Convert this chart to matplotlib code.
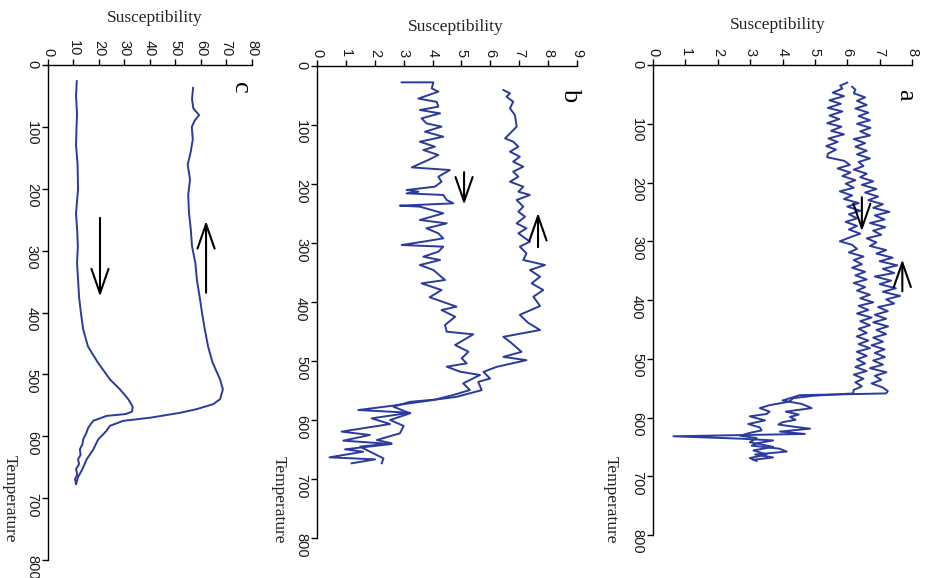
import matplotlib
matplotlib.use("Agg")
import numpy as np
import matplotlib.pyplot as plt

# (temperature, susceptibility), one list per curve
c_lower = [(26, 11.3), (50, 11.0), (80, 11.4), (100, 11.2), (130, 11.0), (160, 11.6), (200, 11.8),
           (240, 11.0), (270, 11.5), (293, 11.7), (320, 11.4), (347, 11.8), (375, 12.2), (400, 12.9),
           (427, 13.8), (455, 15.7), (481, 19.6), (508, 24.3), (524, 28.2), (540, 31.5), (552, 33.2),
           (560, 33.0), (564, 30.5), (567, 23.0), (575, 17.7), (586, 15.8), (595, 15.0), (605, 13.8),
           (613, 13.5), (621, 12.5), (630, 12.8), (637, 11.8), (645, 12.2), (653, 11.0), (662, 11.5),
           (669, 10.6), (677, 11.0)]
c_upper = [(37, 56.9), (55, 56.5), (70, 57.0), (81, 59.3), (90, 57.5), (100, 56.4), (120, 56.8),
           (140, 56.0), (161, 54.8), (185, 55.7), (210, 55.0), (239, 55.3), (265, 56.0), (293, 56.5),
           (320, 57.8), (347, 58.4), (375, 59.5), (400, 60.4), (427, 61.5), (455, 62.8), (480, 64.5),
           (497, 66.3), (508, 67.5), (524, 68.6), (540, 67.5), (548, 64.8), (556, 58.4), (562, 51.8),
           (570, 40.0), (575, 29.5), (583, 24.3), (591, 23.0), (605, 19.7), (621, 17.8), (637, 15.2),
           (653, 13.5), (666, 11.8), (677, 11.0)]

b_low = [(27.7, 2.93), (27.7, 4.03), (37.9, 3.97), (43.5, 4.20), (55.2, 3.51), (60.8, 4.14), (68.9, 4.20),
         (74.6, 3.56), (80.2, 4.26), (88.7, 3.62), (97.2, 3.79), (102.8, 4.31), (111.3, 3.74), (119.8, 4.37),
         (128.3, 3.56), (136.7, 4.08), (142.4, 3.68), (150.8, 4.20), (159.3, 3.85), (171.8, 3.28),
         (173.4, 3.74), (176.3, 4.60), (187.6, 4.20), (196.1, 4.31), (204.5, 4.08), (210.2, 3.10),
         (213.0, 3.51), (215.8, 3.10), (218.6, 4.37), (227.1, 4.49), (232.8, 4.72), (236.7, 2.87),
         (238.4, 3.56), (249.7, 4.37), (261.0, 3.56), (266.7, 4.49), (275.1, 3.79), (283.6, 4.20),
         (292.1, 4.37), (297.7, 3.68), (303.4, 2.93), (306.2, 4.37), (314.7, 4.20), (323.2, 3.68),
         (328.8, 4.26), (337.3, 3.56), (345.8, 4.03), (362.7, 4.43), (368.4, 3.62), (379.7, 4.31),
         (392.0, 3.90), (407.9, 4.83), (413.6, 4.31), (424.9, 4.78), (439.0, 4.43), (450.3, 4.49),
         (454.8, 5.41), (472.9, 4.78), (484.2, 5.24), (495.5, 5.01), (504.0, 5.18), (509.6, 4.49),
         (518.1, 4.95), (523.7, 5.64), (537.9, 5.06), (549.2, 5.29), (557.6, 4.72), (566.1, 4.03),
         (576.3, 2.53), (583.1, 1.43), (587.7, 3.22), (597.2, 1.89), (606.8, 2.53), (619.7, 0.85),
         (625.4, 1.83), (635.0, 0.91), (640.7, 2.58), (649.7, 0.97), (653.7, 1.60), (663.3, 0.43),
         (666.7, 2.01), (673.4, 1.20)]
b_high = [(40.7, 6.45), (46.3, 6.68), (52.0, 6.56), (60.5, 6.79), (71.8, 6.68), (83.1, 6.85), (102.8, 6.91),
          (122.6, 6.51), (128.3, 6.79), (136.7, 6.97), (145.2, 6.68), (153.7, 7.02), (162.1, 6.79),
          (170.6, 7.14), (179.1, 6.79), (187.6, 6.97), (196.1, 6.68), (204.5, 7.14), (213.0, 6.97),
          (218.6, 7.37), (227.1, 6.91), (238.4, 7.14), (246.9, 6.97), (255.4, 7.20), (266.7, 6.91),
          (275.1, 7.25), (283.6, 6.97), (297.7, 7.37), (306.2, 7.02), (317.5, 7.25), (328.8, 7.14),
          (337.3, 7.89), (345.8, 7.37), (357.1, 7.72), (368.4, 7.43), (379.7, 7.83), (391.0, 7.49),
          (406.8, 7.72), (421.7, 7.02), (435.0, 7.30), (447.5, 7.72), (459.0, 6.45), (467.5, 6.68),
          (484.5, 7.08), (493.0, 6.45), (498.6, 7.25), (509.9, 6.22), (518.4, 5.76), (529.7, 5.99),
          (535.3, 5.58), (549.4, 5.70), (560.7, 4.83), (565.2, 4.14), (569.2, 3.22), (577.4, 2.64),
          (588.7, 3.22), (600.0, 2.53), (610.0, 3.00), (622.6, 2.87), (633.9, 2.07), (639.5, 2.58),
          (645.2, 1.49), (656.5, 1.95), (665.0, 2.30), (673.4, 2.24)]

a_one = [(30, 6.00), (35, 5.78), (40, 5.85), (47, 5.55), (53, 5.90), (60, 5.45), (66, 5.80), (73, 5.40),
         (79, 5.85), (86, 5.45), (92, 5.75), (99, 5.38), (105, 5.82), (112, 5.50), (118, 5.90), (125, 5.42),
         (131, 5.70), (138, 5.35), (144, 5.65), (151, 5.40), (157, 5.38), (163, 5.90), (170, 6.08),
         (176, 5.70), (183, 6.10), (189, 5.85), (196, 6.25), (202, 5.95), (209, 6.20), (215, 5.77),
         (222, 6.15), (228, 5.90), (235, 6.35), (241, 6.00), (248, 6.40), (254, 6.05), (261, 6.30),
         (267, 5.95), (274, 6.30), (280, 6.05), (287, 6.40), (293, 6.10), (300, 5.77), (306, 6.15),
         (313, 6.30), (319, 6.05), (326, 6.50), (332, 6.20), (339, 6.45), (345, 6.15), (352, 6.55),
         (358, 6.25), (365, 6.60), (371, 6.20), (378, 6.55), (384, 6.30), (391, 6.70), (397, 6.40),
         (404, 6.80), (410, 6.35), (417, 6.65), (423, 6.30), (430, 6.75), (436, 6.40), (443, 6.70),
         (449, 6.35), (456, 6.60), (462, 6.29), (469, 6.65), (475, 6.35), (482, 6.70), (488, 6.29),
         (495, 6.60), (501, 6.30), (508, 6.55), (514, 6.25), (521, 6.60), (527, 6.20), (534, 6.50),
         (540, 6.25), (547, 6.45), (553, 6.20), (559, 6.18), (563, 4.95), (567, 4.33), (573, 4.20),
         (579, 3.60), (584, 3.30), (590, 3.60), (594, 3.51), (598, 2.99), (605, 3.46), (611, 2.94),
         (617, 3.30), (622, 3.35), (626, 3.00), (631, 2.69), (635, 3.20), (642, 2.99), (650, 3.71),
         (656, 3.10), (663, 3.51), (669, 2.99), (674, 3.20)]
a_two = [(37, 6.15), (42, 6.25), (48, 6.20), (55, 6.55), (61, 6.30), (68, 6.60), (74, 6.25), (81, 6.65),
         (87, 6.35), (94, 6.70), (100, 6.30), (107, 6.72), (113, 6.40), (120, 6.70), (126, 6.20), (133, 6.55),
         (139, 6.25), (146, 6.60), (152, 6.30), (159, 6.70), (165, 6.35), (172, 6.50), (178, 6.20),
         (185, 6.60), (191, 6.40), (198, 6.80), (204, 6.45), (211, 6.90), (217, 6.55), (224, 6.95),
         (230, 6.65), (237, 7.10), (243, 6.80), (250, 7.30), (256, 6.85), (263, 7.15), (269, 6.70),
         (276, 7.17), (282, 6.80), (289, 7.05), (295, 6.60), (302, 6.90), (308, 6.70), (315, 7.20),
         (321, 6.90), (328, 7.40), (334, 7.00), (341, 7.55), (347, 7.10), (354, 7.45), (360, 6.85),
         (367, 7.35), (373, 7.00), (380, 7.50), (386, 7.10), (393, 7.63), (399, 7.20), (406, 7.45),
         (412, 6.95), (419, 7.25), (425, 6.85), (432, 7.20), (438, 6.80), (445, 7.26), (451, 6.90),
         (458, 7.20), (464, 6.80), (471, 7.10), (477, 6.75), (484, 7.15), (490, 6.85), (497, 7.16),
         (503, 6.80), (510, 7.10), (516, 6.70), (523, 7.21), (529, 6.85), (536, 7.05), (542, 6.75),
         (549, 7.10), (555, 7.25), (559, 7.20), (562, 4.53), (566, 4.30), (571, 4.00), (577, 4.60),
         (584, 4.90), (590, 4.10), (595, 4.50), (599, 4.23), (604, 4.40), (608, 4.00), (612, 3.87),
         (616, 4.40), (619, 4.85), (624, 3.92), (628, 4.69), (632, 0.63), (636, 2.69), (639, 3.71),
         (644, 3.20), (648, 3.05), (653, 3.90), (658, 4.13), (663, 3.15), (668, 3.71), (672, 3.10)]

# arrows: (sus, T tail) -> (sus, T head)
c_arrows = [((62, 368), (62, 252)), ((20.4, 247), (20.4, 374))]
b_arrows = [((5.09, 180), (5.09, 235)), ((7.65, 307), (7.65, 249))]
a_arrows = [((6.45, 225), (6.45, 283)), ((7.7, 385), (7.7, 331))]

line_col = "#2b3b9d"
serif = ["Liberation Serif", "DejaVu Serif"]
sans = ["Liberation Sans", "DejaVu Sans"]

fig = plt.figure(figsize=(9.28, 5.78), dpi=100)

panels = [
    # rect, xmax, xticks, curves, arrows, letter pos, temp label pos, sus label pos
    ([0.0517, 0.0310, 0.2198, 0.8565], 80, range(0, 81, 10), [c_lower, c_upper], c_arrows,
     "c", (75.3, 37), (-0.19, 0.123), (0.525, 1.095)),
    ([0.3416, 0.0692, 0.2802, 0.8166], 9, range(0, 10), [b_low, b_high], b_arrows,
     "b", (8.75, 49), (-0.146, 0.08), (0.535, 1.083)),
    ([0.7037, 0.0744, 0.2791, 0.8131], 8, range(0, 9), [a_one, a_two], a_arrows,
     "a", (7.78, 51), (-0.162, 0.074), (0.483, 1.085)),
]

for rect, xmax, xt, curves, arrows, letter, lpos, tpos, spos in panels:
    ax = fig.add_axes(rect)
    for cur in curves:
        arr = np.array(cur)
        ax.plot(arr[:, 1], arr[:, 0], color=line_col, lw=1.4)
    for tail, head in arrows:
        ax.annotate("", xy=head, xytext=tail,
                    arrowprops=dict(arrowstyle="->,head_length=0.8,head_width=0.28",
                                    color="black", lw=1.5, mutation_scale=22,
                                    shrinkA=0, shrinkB=0))
    ax.set_xlim(0, xmax)
    ax.set_ylim(800, 0)
    ax.set_xticks(list(xt))
    ax.set_yticks(range(0, 801, 100))
    ax.xaxis.tick_top()
    ax.spines["right"].set_visible(False)
    ax.spines["bottom"].set_visible(False)
    for s in ("left", "top"):
        ax.spines[s].set_linewidth(1.0)
    ax.tick_params(direction="out", length=4, width=1.0, pad=2.5)
    for lab in ax.get_xticklabels() + ax.get_yticklabels():
        lab.set_rotation(270)
        lab.set_fontfamily(sans)
        lab.set_fontsize(10.5)
        lab.set_color("#1a1a1a")
    ax.text(lpos[0], lpos[1], letter, rotation=270, fontsize=19, family=serif,
            ha="center", va="center")
    ax.text(tpos[0], tpos[1], "Temperature", rotation=270, fontsize=12.5, family=serif,
            ha="center", va="center", transform=ax.transAxes, color="#222222")
    ax.text(spos[0], spos[1], "Susceptibility", fontsize=12.5, family=serif,
            ha="center", va="center", transform=ax.transAxes, color="#222222")

fig.savefig("out.png", dpi=100)
